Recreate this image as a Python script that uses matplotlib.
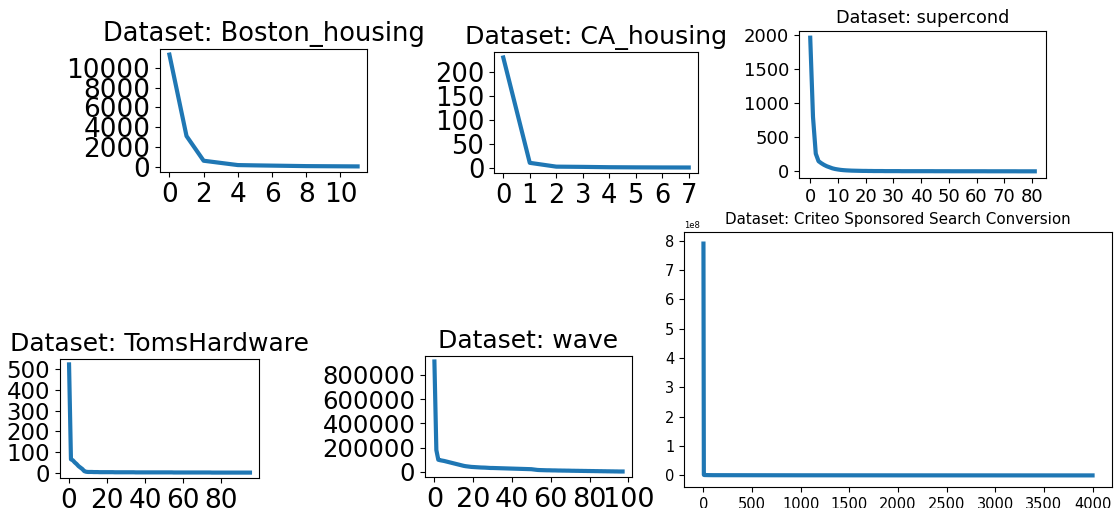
import matplotlib
matplotlib.use("Agg")
import matplotlib.pyplot as plt
from matplotlib.ticker import MultipleLocator

# Loss curves per dataset -----
boston_loss = [11350, 3100, 600, 380, 160, 130, 105, 80, 55, 45, 35, 25]
ca_loss = [231, 10, 2, 1.5, 0.8, 0.5, 0.3, 0.2]
supercond_loss = [1965, 800, 260, 150, 120, 95, 75, 60, 45, 35,
                  28, 22, 18, 15, 13, 11, 10, 9, 8, 7,
                  7, 6, 6, 5, 5, 5, 5, 4, 4, 4,
                  4, 4, 4, 3, 3, 3, 3, 3, 3, 3,
                  3, 3, 3, 3, 3, 2.5, 2.5, 2.5, 2.5, 2.5,
                  2.5, 2, 2, 2, 2, 2, 2, 2, 2, 2,
                  2, 2, 2, 2, 1.5, 1.5, 1.5, 1.5, 1.5, 1.5,
                  1.5, 1.5, 1.5, 1.5, 1.5, 1, 1, 1, 1, 1,
                  1, 1]
toms_loss = [522, 65, 60, 50, 42, 32, 25, 18, 8, 5,
             4, 4, 4, 3.5, 3.5, 3.5, 3, 3, 3, 3,
             3, 3, 3, 3, 2.5, 2.5, 2.5, 2.5, 2.5, 2.5,
             2.5, 2.5, 2.5, 2.5, 2.5, 2, 2, 2, 2, 2,
             2, 2, 2, 2, 2, 2, 2, 2, 2, 2,
             2, 2, 2, 2, 2, 1.5, 1.5, 1.5, 1.5, 1.5,
             1.5, 1.5, 1.5, 1.5, 1.5, 1.5, 1.5, 1.5, 1.5, 1.5,
             1.5, 1.5, 1.5, 1.5, 1.5, 1, 1, 1, 1, 1,
             1, 1, 1, 1, 1, 1, 1, 1, 1, 1,
             1, 1, 1, 1, 1, 1]
wave_loss = [911000, 180000, 100000, 96000, 93000, 90000, 86000, 82000, 78000, 74000,
             70000, 66000, 62000, 58000, 54000, 50000, 47000, 45000, 43000, 41000,
             40000, 39000, 38000, 37000, 36000, 35500, 35000, 34000, 33000, 32000,
             32000, 31500, 31000, 30500, 30000, 29500, 29000, 28500, 28000, 27500,
             27000, 26500, 26000, 25500, 25000, 24500, 24000, 23500, 23000, 22500,
             22000, 20000, 18000, 16000, 15000, 14500, 14000, 13500, 13000, 13000,
             12500, 12000, 12000, 11500, 11000, 11000, 10500, 10500, 10000, 10000,
             9500, 9000, 9000, 8500, 8500, 8000, 8000, 7500, 7500, 7000,
             7000, 6500, 6500, 6000, 6000, 5500, 5500, 5000, 5000, 4500,
             4500, 4000, 4000, 3500, 3500, 3000, 3000, 3000]
criteo_epoch = [0, 4, 10, 50, 100, 500, 1000, 2000, 3000, 4000]
criteo_loss = [7.9e8, 2.0e6, 1.5e6, 1.2e6, 1.0e6, 8.0e5, 6.0e5, 4.0e5, 3.0e5, 2.0e5]

W, H = 1114, 508
fig = plt.figure(figsize=(W / 100, H / 100), dpi=100)


def box(x0, y0, x1, y1):
    # pixel box (top-left origin) -> figure fraction
    return [x0 / W, 1 - y1 / H, (x1 - x0) / W, (y1 - y0) / H]


def draw(rect, x, y, title, xfs, yfs, tfs, xstep, ystep):
    ax = fig.add_axes(rect)
    ax.plot(x, y, color='#1f77b4', linewidth=3)
    ax.set_title(title, fontsize=tfs)
    ax.tick_params(axis='x', labelsize=xfs)
    ax.tick_params(axis='y', labelsize=yfs)
    ax.xaxis.set_major_locator(MultipleLocator(xstep))
    ax.yaxis.set_major_locator(MultipleLocator(ystep))
    return ax


draw(box(160, 49, 367, 172), range(len(boston_loss)), boston_loss,
     "Dataset: Boston_housing", 19, 19, 18.5, 2, 2000)
draw(box(494, 52, 698, 173), range(len(ca_loss)), ca_loss,
     "Dataset: CA_housing", 18.5, 18.5, 18.2, 1, 50)
draw(box(799, 31, 1046, 178), range(len(supercond_loss)), supercond_loss,
     "Dataset: supercond", 13, 13, 12.7, 10, 500)
draw(box(60, 359, 259, 478), range(len(toms_loss)), toms_loss,
     "Dataset: TomsHardware", 19, 16.5, 18, 20, 100)
draw(box(425, 356, 632, 477), range(len(wave_loss)), wave_loss,
     "Dataset: wave", 19.5, 17.5, 18, 20, 200000)
ax = draw(box(684, 232, 1112, 487), criteo_epoch, criteo_loss,
          "Dataset: Criteo Sponsored Search Conversion", 10.5, 10.5, 10.9, 500, 1e8)
ax.yaxis.get_offset_text().set_fontsize(6)

fig.savefig("out.png", dpi=100)
